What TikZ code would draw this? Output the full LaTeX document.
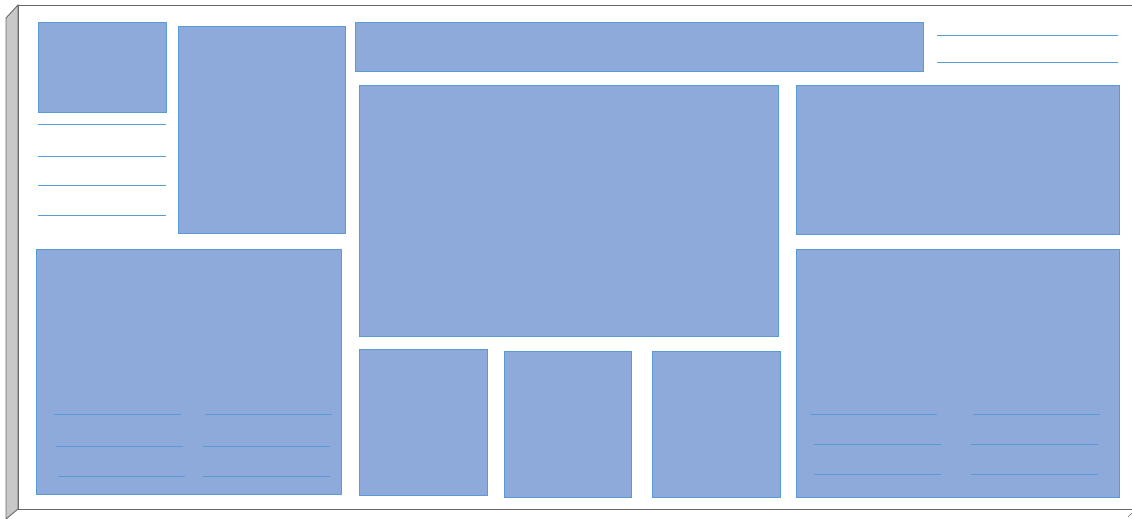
\documentclass[tikz,border=0pt]{standalone}
\usepackage{tikz}
\usetikzlibrary{positioning,calc}
\definecolor{panelfill}{RGB}{142,170,219}
\definecolor{paneledge}{RGB}{91,155,213}
\definecolor{boardedge}{RGB}{105,105,105}
\definecolor{boardside}{RGB}{200,200,200}
\tikzset{
  panel/.style={fill=panelfill,draw=paneledge,line width=0.9pt},
  rule/.style={draw=paneledge,line width=0.9pt},
  board/.style={draw=boardedge,line width=0.9pt},
  bside/.style={fill=boardside,draw=boardedge,line width=0.9pt},
}

\begin{document}
\begin{tikzpicture}[x=1pt,y=-1pt]
  \useasboundingbox (0,0) rectangle (1132,519);
  % board
  \fill[white] (18,5) rectangle (1132,509);
  \draw[bside] (18,5) -- (6,18) -- (6,519) -- (18,509) -- cycle;
  \draw[board] (1132,5) -- (18,5) -- (18,509) -- (1132,509);
  \draw[board,line width=0.6pt] (1128,517) -- (1132,513);
  % panels
  \draw[panel] (38,22) rectangle (166,112);
  \draw[panel] (178,26) rectangle (345,233);
  \draw[panel] (355,22) rectangle (923,71);
  \draw[panel] (359,85) rectangle (778,336);
  \draw[panel] (796,85) rectangle (1119,234);
  \draw[panel] (36,249) rectangle (341,494);
  \draw[panel] (359,349) rectangle (487,495);
  \draw[panel] (504,351) rectangle (631,497);
  \draw[panel] (652,351) rectangle (780,497);
  \draw[panel] (796,249) rectangle (1119,497);
  % rules
  \foreach \y in {35,62}
    \draw[rule] (937,\y) -- (1118,\y);
  \foreach \y in {124,156,185,215}
    \draw[rule] (38,\y) -- (166,\y);
  \foreach \xa/\y in {54/414,56/446,58/476}
    \draw[rule] (\xa,\y) -- ++(127,0);
  \foreach \xa/\y in {205/414,203/446,203/476}
    \draw[rule] (\xa,\y) -- ++(127,0);
  \foreach \xa/\y in {810/414,814/444,814/474}
    \draw[rule] (\xa,\y) -- ++(127,0);
  \foreach \xa/\y in {973/414,971/444,971/474}
    \draw[rule] (\xa,\y) -- ++(127,0);
\end{tikzpicture}
\end{document}
